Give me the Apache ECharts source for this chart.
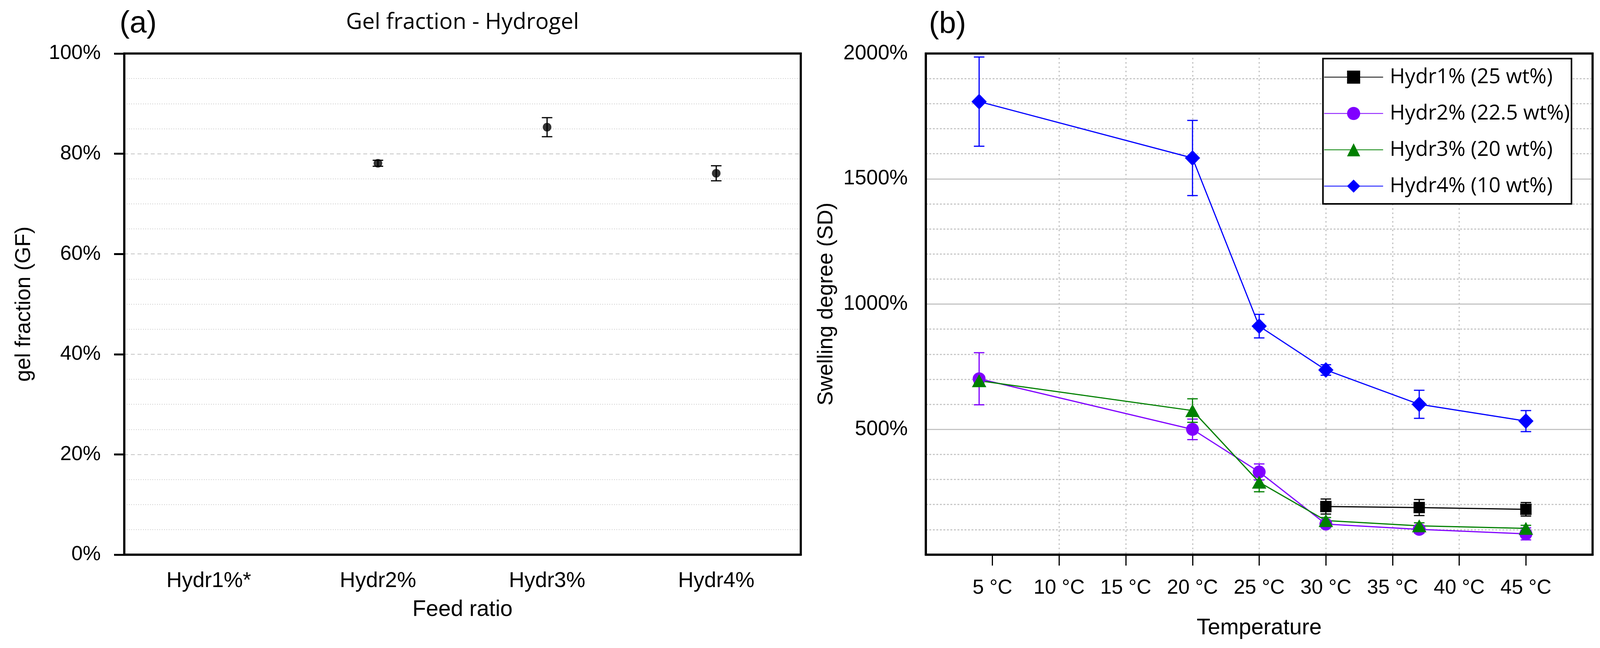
<!DOCTYPE html>
<html><head><meta charset="utf-8">
<script src="https://cdn.jsdelivr.net/npm/echarts@6/dist/echarts.min.js"></script>
<style>html,body{margin:0;padding:0;background:#fff}#c{width:4102px;height:1659px}</style>
</head><body><div id="c"></div><script>
// ---------- data ----------
const feedCategories = ['Hydr1%*', 'Hydr2%', 'Hydr3%', 'Hydr4%'];
const gelFraction = [null, 78.1, 85.3, 76.1];
const gelFractionErr = [null, 0.6, 1.9, 1.5];

const temperatures = [4, 20, 25, 30, 37, 45];
const tempTicks = [5, 10, 15, 20, 25, 30, 35, 40, 45];
const seriesNames = ['Hydr1% (25 wt%)', 'Hydr2% (22.5 wt%)', 'Hydr3% (20 wt%)', 'Hydr4% (10 wt%)'];
const sdHydr1 = [null, null, null, 192, 188, 181];
const sdHydr1Err = [null, null, null, 30, 32, 27];
const sdHydr2 = [702, 500, 330, 122, 101, 83];
const sdHydr2Err = [104, 41, 32, 12, 15, 24];
const sdHydr3 = [694, 575, 289, 136, 115, 105];
const sdHydr3Err = [9, 47, 38, 12, 12, 12];
const sdHydr4 = [1808, 1583, 912, 737, 600, 533];
const sdHydr4Err = [178, 150, 47, 21, 56, 42];

// ---------- styles ----------
const colors = ['#000000', '#8000ff', '#008000', '#0000ff'];
const symbols = ['rect', 'circle', 'triangle', 'diamond'];
const symbolSizes = [[29, 29], [33, 33], [37, 33], [39, 40]];
const ARIAL = 'Liberation Sans';
const CAL = 'Open Sans';

function errRender(color, capW, lw) {
  return function (params, api) {
    const x = api.value(0), y = api.value(1), e = api.value(2);
    const top = api.coord([x, y + e]);
    const bot = api.coord([x, y - e]);
    const style = { stroke: color, lineWidth: lw };
    return {
      type: 'group',
      children: [
        { type: 'line', shape: { x1: top[0], y1: top[1], x2: bot[0], y2: bot[1] }, style },
        { type: 'line', shape: { x1: top[0] - capW / 2, y1: top[1], x2: top[0] + capW / 2, y2: top[1] }, style },
        { type: 'line', shape: { x1: bot[0] - capW / 2, y1: bot[1], x2: bot[0] + capW / 2, y2: bot[1] }, style }
      ]
    };
  };
}

const sdValues = [sdHydr1, sdHydr2, sdHydr3, sdHydr4];
const sdErrors = [sdHydr1Err, sdHydr2Err, sdHydr3Err, sdHydr4Err];

const rightSeries = [];
sdValues.forEach((vals, k) => {
  const pts = [];
  const errs = [];
  temperatures.forEach((t, i) => {
    if (vals[i] != null) {
      pts.push([t, vals[i]]);
      errs.push([t, vals[i], sdErrors[k][i]]);
    }
  });
  rightSeries.push({
    name: seriesNames[k], type: 'line', xAxisIndex: 1, yAxisIndex: 1,
    data: pts, symbol: symbols[k], symbolSize: symbolSizes[k], showAllSymbol: true,
    lineStyle: { color: colors[k], width: 3 },
    itemStyle: { color: colors[k] },
    emphasis: { disabled: true }, animation: false
  });
  rightSeries.push({
    name: 'err' + k, type: 'custom', xAxisIndex: 1, yAxisIndex: 1,
    data: errs, renderItem: errRender(colors[k], 27, 3), animation: false, silent: true
  });
});

const leftPts = [];
const leftErr = [];
gelFraction.forEach((v, i) => {
  if (v != null) { leftPts.push([i, v]); leftErr.push([i, v, gelFractionErr[i]]); }
});

const gridLineGray = '#c4c4c4';

const option = {
  backgroundColor: '#fff',
  animation: false,
  textStyle: { fontFamily: ARIAL },
  grid: [
    { left: 318, right: 2052, top: 137, bottom: 239, show: true, borderColor: '#000', borderWidth: 5, containLabel: false },
    { left: 2370, right: 25, top: 137, bottom: 239, show: true, borderColor: '#000', borderWidth: 5, containLabel: false }
  ],
  graphic: [
    { type: 'text', left: 306, top: 22, style: { text: '(a)', font: '78px "Liberation Sans"', fill: '#000' } },
    { type: 'text', left: 2378, top: 24, style: { text: '(b)', font: '78px "Liberation Sans"', fill: '#000' } },
    { type: 'text', x: 1184, y: 58, style: { text: 'Gel fraction - Hydrogel', font: '57px "Open Sans"', fill: '#000', textAlign: 'center', textVerticalAlign: 'middle' } },
    // re-stroke the plot frames so that grid lines never sit on top of them
    { type: 'rect', shape: { x: 318, y: 137, width: 4102 - 2052 - 318, height: 1659 - 239 - 137 }, style: { fill: null, stroke: '#000', lineWidth: 5 }, z: 50, silent: true },
    { type: 'rect', shape: { x: 2370, y: 137, width: 4102 - 25 - 2370, height: 1659 - 239 - 137 }, style: { fill: null, stroke: '#000', lineWidth: 5 }, z: 1, silent: true }
  ],
  legend: {
    orient: 'vertical', right: 79, top: 150,
    data: seriesNames, selectedMode: false,
    itemWidth: 151, itemHeight: 42, itemGap: 40,
    textStyle: { fontFamily: CAL, fontSize: 53, color: '#000', lineHeight: 42, padding: [0, 0, 0, 12] },
    backgroundColor: '#fff', borderColor: '#000', borderWidth: 4, borderRadius: 0,
    padding: [21, 4, 19, 2], z: 10
  },
  xAxis: [
    {
      type: 'category', gridIndex: 0, data: feedCategories, boundaryGap: true,
      axisLine: { show: true, lineStyle: { color: '#000', width: 5 } },
      axisTick: { show: false },
      axisLabel: { color: '#000', fontSize: 55, fontFamily: ARIAL, margin: 40 },
      splitLine: { show: false },
      name: 'Feed ratio', nameLocation: 'middle', nameGap: 113,
      nameTextStyle: { color: '#000', fontSize: 57, fontFamily: ARIAL }
    },
    {
      type: 'value', gridIndex: 1, min: 0, max: 50, interval: 5,
      axisLine: { show: true, lineStyle: { color: '#000', width: 5 } },
      axisTick: { show: true, length: 28, lineStyle: { color: '#000', width: 3 }, customValues: tempTicks },
      axisLabel: { color: '#000', fontSize: 52, fontFamily: ARIAL, margin: 60, customValues: tempTicks,
        formatter: v => v + ' °C' },
      splitLine: { show: true, showMinLine: false, showMaxLine: false, lineStyle: { color: gridLineGray, width: 3, type: [4, 7] } },
      name: 'Temperature', nameLocation: 'middle', nameGap: 160,
      nameTextStyle: { color: '#000', fontSize: 57, fontFamily: ARIAL }
    }
  ],
  yAxis: [
    {
      type: 'value', gridIndex: 0, min: 0, max: 100, interval: 20,
      axisLine: { show: true, lineStyle: { color: '#000', width: 5 } },
      axisTick: { show: true, length: 26, lineStyle: { color: '#000', width: 5 } },
      axisLabel: { color: '#000', fontSize: 52, fontFamily: ARIAL, margin: 60, formatter: v => v + '%' },
      splitLine: { show: true, showMinLine: false, showMaxLine: false, lineStyle: { color: gridLineGray, width: 2, type: [10, 7] } },
      minorTick: { show: false, splitNumber: 4 },
      minorSplitLine: { show: true, lineStyle: { color: '#cccccc', width: 2, type: [2, 4] } },
      name: 'gel fraction (GF)', nameLocation: 'middle', nameGap: 229,
      nameTextStyle: { color: '#000', fontSize: 55, fontFamily: ARIAL }
    },
    {
      type: 'value', gridIndex: 1, min: 0, max: 2000, interval: 500,
      axisLine: { show: true, lineStyle: { color: '#000', width: 5 } },
      axisTick: { show: false },
      axisLabel: { color: '#000', fontSize: 53, fontFamily: ARIAL, margin: 46, formatter: v => v === 0 ? '' : v + '%' },
      splitLine: { show: true, showMinLine: false, showMaxLine: false, lineStyle: { color: gridLineGray, width: 3, type: 'solid' } },
      minorTick: { show: false, splitNumber: 5 },
      minorSplitLine: { show: true, lineStyle: { color: '#c8c8c8', width: 3, type: [5, 4] } },
      name: 'Swelling degree (SD)', nameLocation: 'middle', nameGap: 227,
      nameTextStyle: { color: '#000', fontSize: 55, fontFamily: ARIAL }
    }
  ],
  series: [
    {
      name: 'gelFraction', type: 'scatter', xAxisIndex: 0, yAxisIndex: 0,
      data: leftPts, symbol: 'circle', symbolSize: 22, itemStyle: { color: '#000' },
      emphasis: { disabled: true }, z: 3
    },
    {
      name: 'gelErr', type: 'custom', xAxisIndex: 0, yAxisIndex: 0,
      data: leftErr, renderItem: errRender('#000', 27, 3), silent: true, z: 3
    }
  ].concat(rightSeries)
};

const chart = echarts.init(document.getElementById('c'), null, { renderer: 'canvas', width: 4102, height: 1659 });
chart.setOption(option);
</script></body></html>
